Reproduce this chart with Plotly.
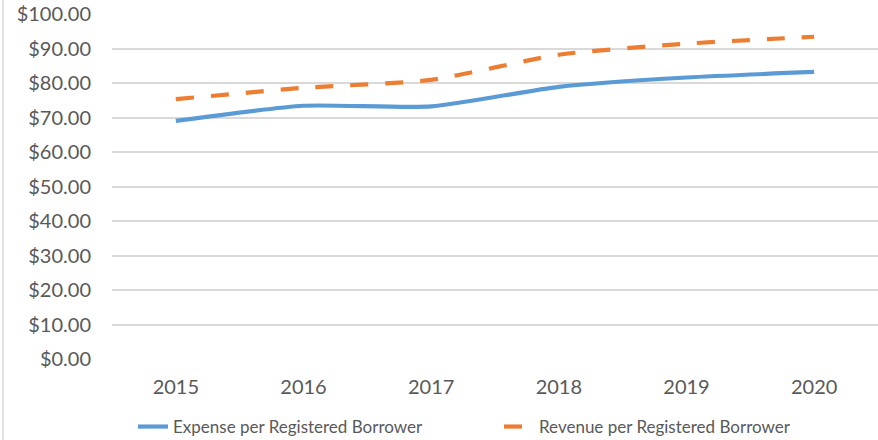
import plotly.graph_objects as go

years = ["2015", "2016", "2017", "2018", "2019", "2020"]
expense = [69.0, 73.4, 73.2, 78.9, 81.6, 83.2]
revenue = [75.3, 78.6, 80.9, 88.2, 91.4, 93.4]
y_ticks = [0, 10, 20, 30, 40, 50, 60, 70, 80, 90, 100]
y_labels = ["$%.2f" % v for v in y_ticks]

W, H = 878, 440
L, R, T, B = 112, 0, 14, 81
plot_w = W - L - R
plot_h = H - T - B

fig = go.Figure()
fig.add_trace(go.Scatter(
    x=years, y=expense, mode="lines", name="Expense per Registered Borrower",
    line=dict(color="#5B9BD5", width=4.2, shape="spline", smoothing=0.6),
))
fig.add_trace(go.Scatter(
    x=years, y=revenue, mode="lines", name="Revenue per Registered Borrower",
    line=dict(color="#ED7D31", width=4.2, shape="spline", smoothing=0.6, dash="18px,17px"),
))

fig.update_layout(
    width=W, height=H,
    margin=dict(l=L, r=R, t=T, b=B, pad=0),
    paper_bgcolor="white", plot_bgcolor="white",
    font=dict(family="Lato", color="#595959"),
    showlegend=True,
    legend=dict(
        orientation="h", x=(133 - L) / plot_w, xanchor="left",
        yref="container", y=1 - 427 / H, yanchor="middle",
        font=dict(size=17, color="#595959", family="Lato"),
        bgcolor="rgba(0,0,0,0)", entrywidth=321, entrywidthmode="pixels",
    ),
    xaxis=dict(
        type="category", showgrid=False, zeroline=False, showline=False,
        ticks="outside", ticklen=10, tickcolor="rgba(0,0,0,0)",
        tickfont=dict(size=20, color="#595959"),
        range=[-0.5, 5.5],
    ),
    yaxis=dict(
        range=[0, 100], tickvals=y_ticks, ticktext=y_labels,
        showgrid=True, gridcolor="#D9D9D9", gridwidth=1.5,
        zeroline=False, showline=False,
        ticks="outside", ticklen=16, tickcolor="rgba(0,0,0,0)",
        tickfont=dict(size=20, color="#595959"),
    ),
    shapes=[dict(type="line", xref="paper", yref="paper",
                 x0=-(L - 3) / plot_w, x1=-(L - 3) / plot_w,
                 y0=-0.5, y1=1.2,
                 line=dict(color="#D9D9D9", width=1.5))],
)

fig.write_html(
    "out.html",
    config={"displayModeBar": False},
    post_script="document.body.style.margin='0';document.body.style.overflow='hidden';",
)
